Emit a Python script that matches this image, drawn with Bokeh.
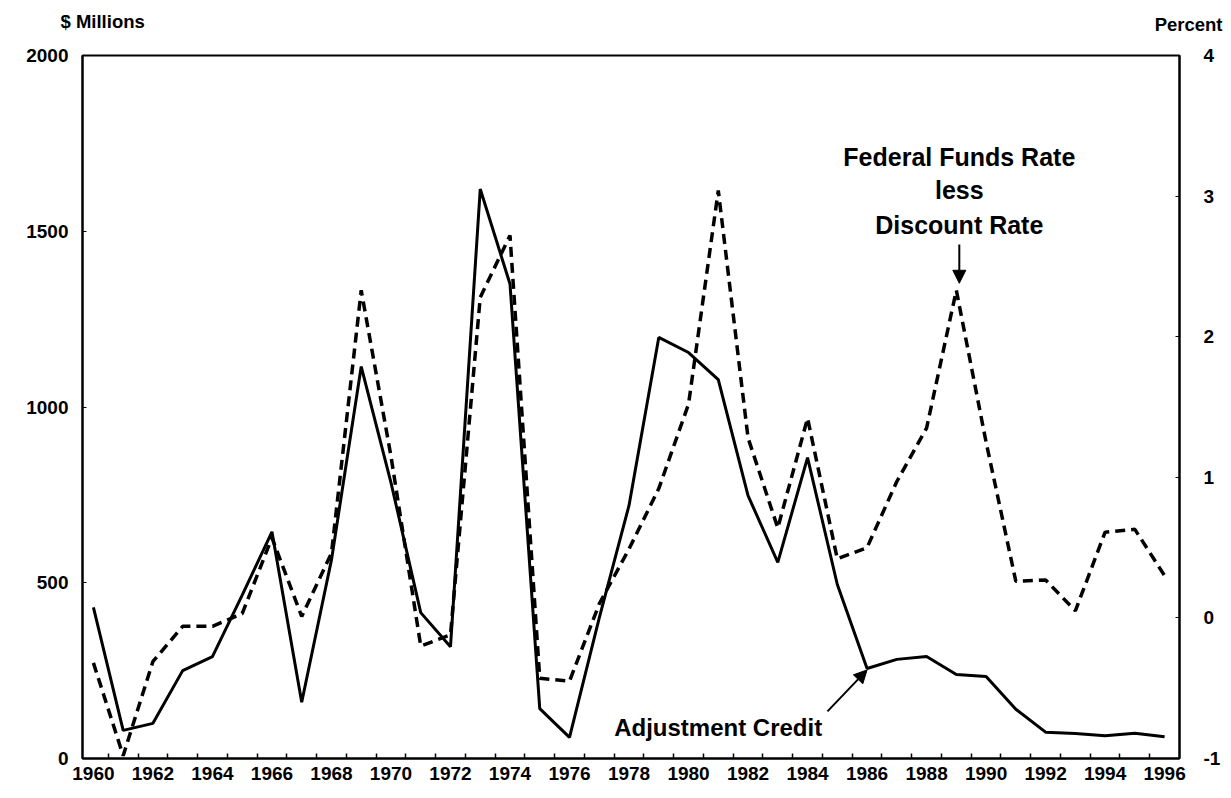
from bokeh.plotting import figure
from bokeh.layouts import column
from bokeh.models import Range1d, LinearAxis, FixedTicker, Label, Arrow, NormalHead, ColumnDataSource
from bokeh.core.properties import value
from bokeh.embed import file_html
from bokeh.resources import INLINE

# ---- data ----
years = list(range(1960, 1997))
adjustment_credit = [430, 80, 100, 250, 290, 465, 645, 160, 565, 1115,
                     785, 415, 318, 1620, 1350, 142, 60, 400, 720, 1198,
                     1155, 1078, 748, 558, 856, 495, 256, 282, 290, 239,
                     233, 140, 75, 71, 65, 72, 62]
ff_less_discount = [-0.32, -0.98, -0.31, -0.06, -0.06, 0.03, 0.57, 0.01, 0.46, 2.33,
                    1.15, -0.20, -0.12, 2.28, 2.72, -0.43, -0.45, 0.10, 0.49, 0.92,
                    1.52, 3.04, 1.28, 0.64, 1.42, 0.42, 0.50, 0.97, 1.35, 2.33,
                    1.25, 0.26, 0.27, 0.05, 0.61, 0.63, 0.30]
x_label_years = list(range(1960, 1997, 2))
x_minor_ticks = [y + 0.5 for y in range(1960, 1996)]
left_ticks = [0, 500, 1000, 1500, 2000]
right_ticks = [-1, 0, 1, 2, 3, 4]
right_tick_labels = {-1: "-1", 0: "0", 1: "1", 2: "2", 3: "3", 4: "4"}
left_title = "$ Millions"
right_title = "Percent"

FONT = "Liberation Sans"
W = 1223
HEAD_H = 40

# ---- header strip carrying the two axis titles ----
head = figure(width=W, height=HEAD_H, output_backend="svg", toolbar_location=None,
              x_range=Range1d(0, W), y_range=Range1d(HEAD_H, 0),
              min_border=0, min_border_left=0, min_border_right=0,
              min_border_top=0, min_border_bottom=0)
try:
    head.frame_align = False
except Exception:
    pass
head.axis.visible = False
head.xgrid.visible = False
head.ygrid.visible = False
head.outline_line_color = None
head.text(x=[60], y=[21], text=[left_title], text_font=value(FONT), text_font_style="bold",
          text_font_size="18.5px", text_baseline="middle", text_align="left", text_color="black")
head.text(x=[1222], y=[24], text=[right_title], text_font=value(FONT), text_font_style="bold",
          text_font_size="18.5px", text_baseline="middle", text_align="right", text_color="black")

# ---- main chart ----
src = ColumnDataSource(dict(year=years, adj=adjustment_credit, ff=ff_less_discount))

p = figure(width=W, height=790 - HEAD_H, output_backend="svg", toolbar_location=None,
           x_range=Range1d(1959.633, 1996.5), y_range=Range1d(0, 2000),
           min_border_left=82, min_border_right=W - 1188,
           min_border_top=55 - HEAD_H, min_border_bottom=32)
try:
    p.frame_align = False
except Exception:
    pass
p.extra_y_ranges = {"pct": Range1d(-1, 4)}

p.xgrid.visible = False
p.ygrid.visible = False
p.outline_line_color = "black"
p.outline_line_width = 2

# bottom axis
xa = p.xaxis[0]
xa.ticker = FixedTicker(ticks=x_label_years, minor_ticks=x_minor_ticks)
xa.major_tick_in = 0
xa.major_tick_out = 0
xa.minor_tick_in = 5
xa.minor_tick_out = 0
xa.minor_tick_line_color = "black"
xa.minor_tick_line_width = 1.5
xa.axis_line_width = 2
xa.major_label_text_font = FONT
xa.major_label_text_font_style = "bold"
xa.major_label_text_font_size = "19px"
xa.major_label_text_color = "black"
xa.major_label_standoff = 8

# left axis
ya = p.yaxis[0]
ya.ticker = FixedTicker(ticks=left_ticks)
ya.major_tick_in = 4
ya.major_tick_out = 0
ya.minor_tick_line_color = None
ya.axis_line_width = 2
ya.major_label_text_font = FONT
ya.major_label_text_font_style = "bold"
ya.major_label_text_font_size = "19px"
ya.major_label_text_color = "black"
ya.major_label_standoff = 14

# right axis
ra = LinearAxis(y_range_name="pct", ticker=FixedTicker(ticks=right_ticks))
ra.major_label_overrides = right_tick_labels
ra.major_tick_in = 4
ra.major_tick_out = 0
ra.minor_tick_line_color = None
ra.axis_line_width = 2
ra.major_label_text_font = FONT
ra.major_label_text_font_style = "bold"
ra.major_label_text_font_size = "19px"
ra.major_label_text_color = "black"
ra.major_label_standoff = 24
p.add_layout(ra, "right")

# series
p.line("year", "ff", source=src, y_range_name="pct", line_color="black",
       line_width=3.5, line_dash="10 6")
p.line("year", "adj", source=src, line_color="black", line_width=3)

# annotations
for txt, yy in [("Federal Funds Rate", 1710), ("less", 1616), ("Discount Rate", 1519)]:
    p.add_layout(Label(x=1989.1, y=yy, text=txt, text_font=FONT, text_font_style="bold",
                       text_font_size="25px", text_baseline="middle", text_align="center",
                       text_color="black"))
p.add_layout(Arrow(end=NormalHead(size=13, fill_color="black", line_color="black"),
                   x_start=1989.1, y_start=1462, x_end=1989.1, y_end=1352,
                   line_width=2, line_color="black"))

p.add_layout(Label(x=1977.5, y=88, text="Adjustment Credit", text_font=FONT, text_font_style="bold",
                   text_font_size="24px", text_baseline="middle", text_align="left",
                   text_color="black"))
p.add_layout(Arrow(end=NormalHead(size=13, fill_color="black", line_color="black"),
                   x_start=1984.67, y_start=134, x_end=1986.0, y_end=252,
                   line_width=2, line_color="black"))

layout = column(head, p, spacing=0)
open("out.html", "w").write(file_html(layout, INLINE))
